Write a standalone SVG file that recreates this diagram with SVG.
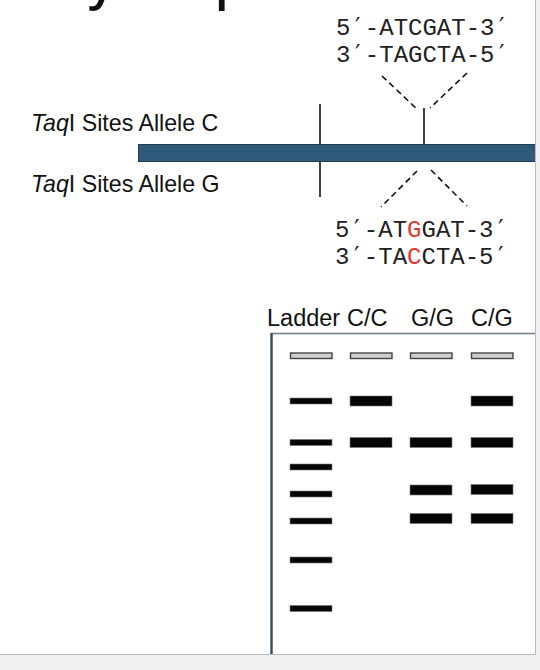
<svg xmlns="http://www.w3.org/2000/svg" width="540" height="670" viewBox="0 0 540 670">
<style>
.seq{font-family:"Liberation Mono","DejaVu Sans Mono",monospace;font-size:24px;fill:#222}
.pr{font-family:"DejaVu Sans Mono",monospace}
.red{fill:#e8332a}
.lbl{font-family:"Liberation Sans","Noto Sans",sans-serif;font-size:23.2px;fill:#111}
.gl{font-family:"Liberation Sans","Noto Sans",sans-serif;font-size:23.5px;fill:#111}
.site{stroke:#111;stroke-width:1.6}
.dash{stroke:#111;stroke-width:1.6;stroke-dasharray:6 4;fill:none}
.well{fill:#cfcfcf;stroke:#444;stroke-width:1.4}
.thin{fill:#050505;stroke:#777;stroke-width:0.6}
.thick{fill:#050505;stroke:#777;stroke-width:0.6}
</style>
<rect x="0" y="0" width="540" height="670" fill="#ffffff"/>
<g id="title">
<text x="388" y="-1" text-anchor="end" font-family="'Open Sans','Noto Sans',sans-serif" font-weight="600" font-size="50" fill="#111">Polymorphisms</text>
</g>
<g id="seq-top">
<text class="seq" x="336" y="35">5<tspan class="pr">′</tspan>-ATCGAT-3<tspan class="pr">′</tspan></text>
<text class="seq" x="336" y="62">3<tspan class="pr">′</tspan>-TAGCTA-5<tspan class="pr">′</tspan></text>
</g>
<g id="label-c"><text class="lbl" x="31" y="131"><tspan font-style="italic">Taq</tspan>I Sites Allele C</text></g>
<g id="label-g"><text class="lbl" x="31" y="192"><tspan font-style="italic">Taq</tspan>I Sites Allele G</text></g>
<g id="chromosome">
<rect x="138.5" y="144.5" width="400" height="17" fill="#2f5a7a" stroke="#1e3c52" stroke-width="1"/>
</g>
<g id="sites">
<line class="site" x1="320" y1="104" x2="320" y2="144"/>
<line class="site" x1="320" y1="162" x2="320" y2="197"/>
<line class="site" x1="424" y1="108" x2="424" y2="144"/>
</g>
<g id="connectors">
<line class="dash" x1="382" y1="76" x2="418" y2="110"/>
<line class="dash" x1="467" y1="73" x2="430" y2="108"/>
<line class="dash" x1="417" y1="171" x2="381" y2="207"/>
<line class="dash" x1="431" y1="170" x2="467" y2="206"/>
</g>
<g id="seq-bottom">
<text class="seq" x="335" y="237">5<tspan class="pr">′</tspan>-AT<tspan class="red">G</tspan>GAT-3<tspan class="pr">′</tspan></text>
<text class="seq" x="335" y="264">3<tspan class="pr">′</tspan>-TA<tspan class="red">C</tspan>CTA-5<tspan class="pr">′</tspan></text>
</g>
<g id="gel-labels">
<text class="gl" x="267" y="326">Ladder</text>
<text class="gl" x="347" y="326">C/C</text>
<text class="gl" x="411" y="326">G/G</text>
<text class="gl" x="471" y="326">C/G</text>
</g>
<g id="gel">
<line x1="271" y1="333.5" x2="535" y2="333.5" stroke="#6b7b8b" stroke-width="1.5"/>
<line x1="271.5" y1="333" x2="271.5" y2="654" stroke="#3e5060" stroke-width="2.5"/>
</g>
<g id="lane-ladder">
<rect class="well" x="290.5" y="353" width="41.5" height="5.5"/>
<rect class="thin" x="290" y="398" width="42" height="6"/>
<rect class="thin" x="290" y="439.5" width="42" height="6"/>
<rect class="thin" x="290" y="464" width="42" height="6"/>
<rect class="thin" x="290" y="491" width="42" height="6"/>
<rect class="thin" x="290" y="518" width="42" height="6"/>
<rect class="thin" x="290" y="557" width="42" height="6"/>
<rect class="thin" x="290" y="605.5" width="42" height="6"/>
</g>
<g id="lane-cc">
<rect class="well" x="350.5" y="353" width="41.5" height="5.5"/>
<rect class="thick" x="350" y="396" width="42" height="10"/>
<rect class="thick" x="350" y="437.5" width="42" height="10"/>
</g>
<g id="lane-gg">
<rect class="well" x="410.5" y="353" width="41.5" height="5.5"/>
<rect class="thick" x="410" y="437.5" width="42" height="10"/>
<rect class="thick" x="410" y="485" width="42" height="10"/>
<rect class="thick" x="410" y="513.5" width="42" height="10"/>
</g>
<g id="lane-cg">
<rect class="well" x="471.5" y="353" width="41.5" height="5.5"/>
<rect class="thick" x="471" y="396" width="42" height="10"/>
<rect class="thick" x="471" y="437.5" width="42" height="10"/>
<rect class="thick" x="471" y="484.5" width="42" height="10"/>
<rect class="thick" x="471" y="513.5" width="42" height="10"/>
</g>
<g id="frame">
<rect x="536" y="0" width="4" height="670" fill="#f0f0f0"/>
<rect x="0" y="655" width="540" height="15" fill="#f0f0f0"/>
<line x1="535.5" y1="0" x2="535.5" y2="655" stroke="#b8bcc4" stroke-width="1"/>
<line x1="0" y1="654.5" x2="536" y2="654.5" stroke="#b8bcc4" stroke-width="1"/>
</g>
</svg>
